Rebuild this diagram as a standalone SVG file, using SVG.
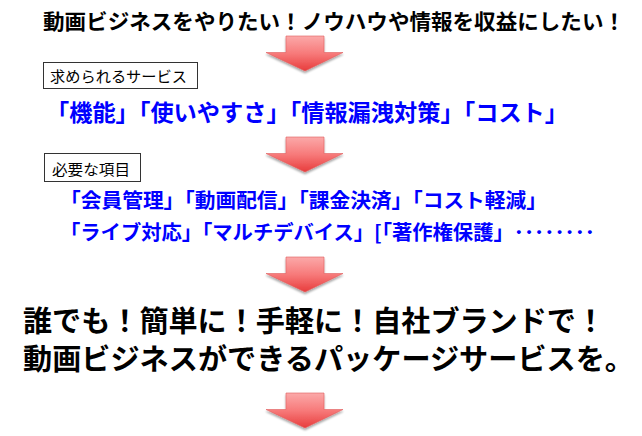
<svg xmlns="http://www.w3.org/2000/svg" width="642" height="436" viewBox="0 0 642 436">
  <style>
    .t { font-family: "Noto Sans CJK JP", "Noto Sans", sans-serif; }
    .title { font-size: 21px; font-weight: 700; fill: #000; }
    .label { font-size: 15px; font-weight: 400; fill: #000; }
    .blue { font-size: 21px; font-weight: 600; fill: #0000ff; }
    .big { font-size: 29px; font-weight: 700; fill: #000; }
    .box { fill: #ffffff; stroke: #333333; stroke-width: 1; }
    .arrow { fill: url(#arrowGrad); stroke: #e06060; stroke-width: 0.6; filter: url(#shadow); }
  </style>
  <defs>
    <linearGradient id="arrowGrad" x1="0" y1="0" x2="0" y2="1">
      <stop offset="0" stop-color="#fba9a9"/>
      <stop offset="0.5" stop-color="#f77a7a"/>
      <stop offset="1" stop-color="#e83c3c"/>
    </linearGradient>
    <filter id="shadow" x="-20%" y="-20%" width="140%" height="150%">
      <feGaussianBlur in="SourceAlpha" stdDeviation="1.2"/>
      <feOffset dx="0" dy="1.5" result="b"/>
      <feComponentTransfer><feFuncA type="linear" slope="0.35"/></feComponentTransfer>
      <feMerge><feMergeNode/><feMergeNode in="SourceGraphic"/></feMerge>
    </filter>
    <path id="arr" d="M286,0 H324 V16.5 H343 L305,35 L266,16.5 H286 Z"/>
  </defs>
  <rect width="642" height="436" fill="#ffffff"/>

  <g id="connectors">
    <use href="#arr" class="arrow" transform="translate(0,36)"/>
    <use href="#arr" class="arrow" transform="translate(0,137)"/>
    <use href="#arr" class="arrow" transform="translate(0,257)"/>
    <use href="#arr" class="arrow" transform="translate(0,393)"/>
  </g>

  <g id="node-goal">
    <text class="t title" x="43" y="29" textLength="582" lengthAdjust="spacingAndGlyphs">動画ビジネスをやりたい！ノウハウや情報を収益にしたい！</text>
  </g>

  <g id="node-services">
    <rect class="box" x="43.5" y="62.5" width="154" height="26"/>
    <text class="t label" x="50" y="82" textLength="137" lengthAdjust="spacingAndGlyphs">求められるサービス</text>
    <text class="t blue" x="46" y="121" style="font-size:23px" textLength="522" lengthAdjust="spacingAndGlyphs">「機能」「使いやすさ」「情報漏洩対策」「コスト」</text>
  </g>

  <g id="node-items">
    <rect class="box" x="44.5" y="153.5" width="96" height="28"/>
    <text class="t label" x="52" y="175" textLength="78" lengthAdjust="spacingAndGlyphs">必要な項目</text>
    <text class="t blue" x="60" y="208" style="font-size:20px" textLength="487" lengthAdjust="spacingAndGlyphs">「会員管理」「動画配信」「課金決済」「コスト軽減」</text>
    <text class="t blue" x="60" y="240" style="font-size:20px" textLength="535" lengthAdjust="spacingAndGlyphs">「ライブ対応」「マルチデバイス」[「著作権保護」････････</text>
  </g>

  <g id="node-package">
    <text class="t big" x="23" y="332" textLength="582" lengthAdjust="spacingAndGlyphs">誰でも！簡単に！手軽に！自社ブランドで！</text>
    <text class="t big" x="23" y="370" textLength="611" lengthAdjust="spacingAndGlyphs">動画ビジネスができるパッケージサービスを。</text>
  </g>
</svg>
